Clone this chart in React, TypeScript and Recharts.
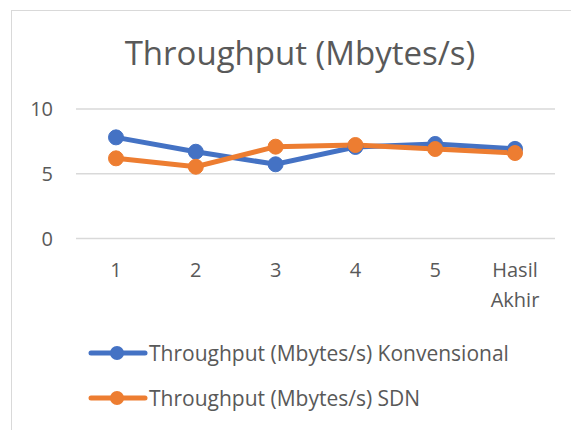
import React from 'react';
import { LineChart, Line, XAxis, YAxis, CartesianGrid, Legend } from 'recharts';

const categories = ['1', '2', '3', '4', '5', 'Hasil Akhir'];
const konvensional = [7.81, 6.7, 5.73, 7.07, 7.3, 6.92];
const sdn = [6.19, 5.54, 7.09, 7.22, 6.91, 6.6];
const yTicks = [0, 5, 10];

const seriesNames = {
  konv: 'Throughput (Mbytes/s) Konvensional',
  sdn: 'Throughput (Mbytes/s) SDN',
};

const data = categories.map((c, i) => ({ name: c, konv: konvensional[i], sdn: sdn[i] }));

const FONT = '"Open Sans", "Noto Sans", sans-serif';
const TEXT = '#595959';
const BLUE = '#4472C4';
const ORANGE = '#ED7D31';

// splits "Hasil Akhir" onto two lines like the original
const CategoryTick = (props: any) => {
  const { x, y, payload } = props;
  const words = String(payload.value).split(' ');
  return (
    <text x={x} y={y} textAnchor="middle" fill={TEXT} fontSize={20} fontFamily={FONT}>
      {words.map((w, i) => (
        <tspan key={i} x={x} dy={i === 0 ? '0.71em' : 30}>{w}</tspan>
      ))}
    </text>
  );
};

const LegendContent = (props: any) => {
  const { payload } = props;
  if (!payload) return null;
  return (
    <div style={{ fontFamily: FONT, fontSize: 21, color: TEXT }}>
      {payload.map((entry: any, i: number) => (
        <div key={i} style={{ display: 'flex', alignItems: 'center', height: 45, whiteSpace: 'nowrap' }}>
          <svg width={60} height={20} style={{ display: 'block' }}>
            <line x1={3} y1={10} x2={57} y2={10} stroke={entry.color} strokeWidth={5} strokeLinecap="round" />
            <circle cx={29} cy={10} r={7} fill={entry.color} />
          </svg>
          <span style={{ marginLeft: 1 }}>{entry.value}</span>
        </div>
      ))}
    </div>
  );
};

export default function App() {
  return (
    <div style={{ position: 'absolute', left: 0, top: 0, width: 571, height: 430, overflow: 'hidden', background: '#fff' }}>
      <div style={{ position: 'absolute', left: 11, top: 10, width: 600, height: 460, border: '1px solid #d9d9d9' }} />
      <div style={{ position: 'absolute', left: 0, top: 33, width: 600, textAlign: 'center', fontFamily: FONT, fontSize: 33, color: TEXT, lineHeight: '40px' }}>
        Throughput (Mbytes/s)
      </div>
      <div style={{ position: 'absolute', left: 0, top: 0 }}>
        <LineChart width={571} height={430} data={data} margin={{ top: 109, right: 16, left: 0, bottom: 125.5 }}>
          <CartesianGrid vertical={false} stroke="#d9d9d9" strokeWidth={1.5} />
          <XAxis
            dataKey="name"
            axisLine={false}
            tickLine={false}
            tickSize={0}
            tickMargin={24}
            height={66}
            interval={0}
            padding={{ left: 40, right: 40 }}
            tick={<CategoryTick />}
          />
          <YAxis
            domain={[0, 10]}
            ticks={yTicks}
            width={76}
            axisLine={false}
            tickLine={false}
            tickSize={0}
            tickMargin={23}
            tick={{ fill: TEXT, fontSize: 20, fontFamily: FONT }}
          />
          <Legend
            layout="vertical"
            align="center"
            verticalAlign="middle"
            wrapperStyle={{ top: 330, left: 88, width: 480 }}
            content={<LegendContent />}
          />
          <Line
            type="linear"
            dataKey="konv"
            name={seriesNames.konv}
            stroke={BLUE}
            strokeWidth={5}
            dot={{ r: 7.5, fill: BLUE, stroke: BLUE, strokeWidth: 1 }}
            isAnimationActive={false}
          />
          <Line
            type="linear"
            dataKey="sdn"
            name={seriesNames.sdn}
            stroke={ORANGE}
            strokeWidth={5}
            dot={{ r: 7.5, fill: ORANGE, stroke: ORANGE, strokeWidth: 1 }}
            isAnimationActive={false}
          />
        </LineChart>
      </div>
    </div>
  );
}
